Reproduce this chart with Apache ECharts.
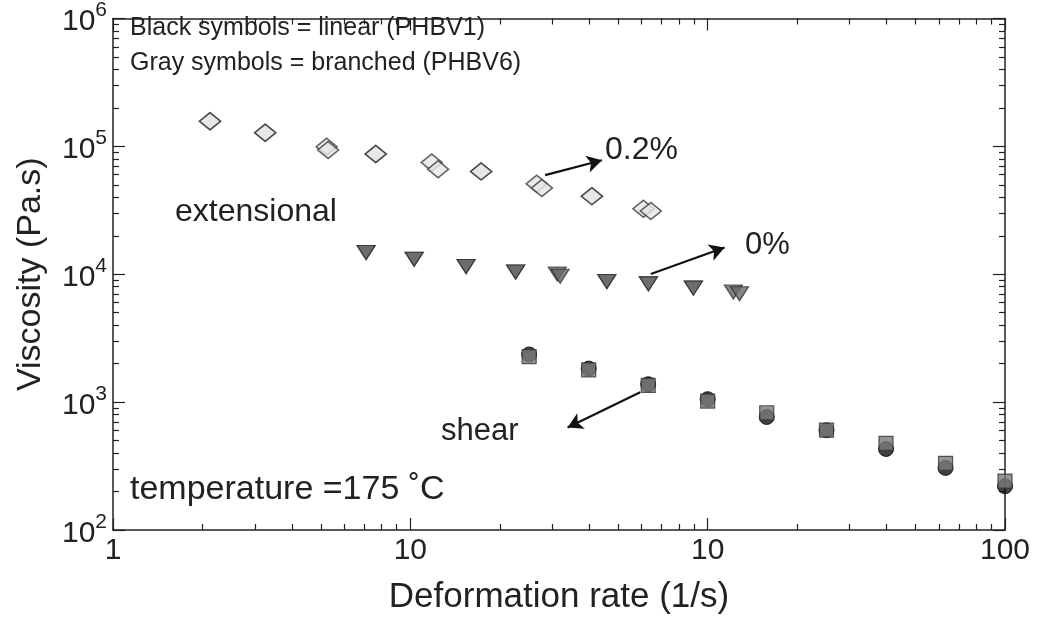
<!DOCTYPE html>
<html>
<head>
<meta charset="utf-8">
<script src="https://cdn.jsdelivr.net/npm/echarts@6/dist/echarts.min.js"></script>
<style>
  html, body { margin: 0; padding: 0; background: #fff; }
  #chart { width: 1042px; height: 623px; }
</style>
</head>
<body>
<div id="chart"></div>
<script>
// axis ticks (x axis is labelled oddly in the source figure: 1, 10, 10, 100)
const xTickValues = [1, 10, 100, 1000]
const xTickLabels = ['1', '10', '10', '100']
const xMinorTicks = [2, 3, 4, 5, 6, 7, 8, 9, 20, 30, 40, 50, 60, 70, 80, 90, 200, 300, 400, 500, 600, 700, 800, 900]
const yTickValues = [1e2, 1e3, 1e4, 1e5, 1e6]
const yMinorTicks = [200, 300, 400, 500, 600, 700, 800, 900, 2e3, 3e3, 4e3, 5e3, 6e3, 7e3, 8e3, 9e3,
  2e4, 3e4, 4e4, 5e4, 6e4, 7e4, 8e4, 9e4, 2e5, 3e5, 4e5, 5e5, 6e5, 7e5, 8e5, 9e5]

// extensional, 0.2% branched (diamonds)
const extRateLinear = [2.12, 3.25, 5.23, 7.65, 11.8, 17.3, 26.6, 40.8, 60.8]
const extViscLinear = [157000, 127700, 99500, 87100, 74800, 63700, 51000, 40800, 32500]
const extRateBranched = [2.12, 3.25, 5.29, 7.65, 12.4, 17.3, 27.7, 40.8, 64.4]
const extViscBranched = [157000, 127700, 93600, 87100, 66300, 63700, 47200, 40800, 31200]

// extensional, 0% (triangles)
const triRateLinear = [7.10, 10.3, 15.4, 22.6, 31.2, 45.8, 63.2, 89.5, 122]
const triViscLinear = [14800, 13100, 11500, 10400, 10050, 8780, 8410, 7790, 7260]
const triRateBranched = [7.10, 10.3, 15.4, 22.6, 31.9, 45.8, 63.2, 89.5, 128]
const triViscBranched = [14800, 13100, 11500, 10400, 9650, 8780, 8410, 7790, 7040]

// shear (circles = linear, squares = branched)
const shearRate = [25.1, 39.8, 63.1, 100, 158, 251, 398, 631, 1000]
const shearViscLinear = [2360, 1830, 1380, 1055, 765, 603, 430, 306, 220]
const shearViscBranched = [2270, 1790, 1350, 1020, 826, 603, 475, 332, 241]

// annotation arrows, [from, to] in data units
const arrow02 = [[28.4, 59600], [44.1, 77900]]
const arrow0 = [[64.4, 10050], [114, 16200]]
const arrowShear = [[59.3, 1195], [33.8, 632]]

const FONT = '"Liberation Sans", Arial, Helvetica, sans-serif'
const INK = '#222'

const zip = (xs, ys) => xs.map((x, i) => [x, ys[i]])

const chart = echarts.init(document.getElementById('chart'), null, { renderer: 'canvas' })

const frameLine = { show: true, lineStyle: { color: INK, width: 1.5 } }

function xAxisOf(position, major, withLabels) {
  return {
    type: 'log', logBase: 10, min: 1, max: 1000, position,
    axisLine: major ? frameLine : { show: false },
    axisTick: {
      show: true, inside: true, length: major ? 12 : 6,
      customValues: major ? xTickValues : xMinorTicks,
      lineStyle: { color: INK, width: 1.2 }
    },
    axisLabel: withLabels ? {
      show: true, customValues: xTickValues, margin: 6,
      fontFamily: FONT, fontSize: 30, color: INK,
      formatter: v => xTickLabels[xTickValues.indexOf(Math.round(v))] || ''
    } : { show: false },
    splitLine: { show: false },
    name: withLabels ? 'Deformation rate (1/s)' : '',
    nameLocation: 'middle', nameGap: 50,
    nameTextStyle: { fontFamily: FONT, fontSize: 35, color: INK }
  }
}

function yAxisOf(position, major, withLabels) {
  return {
    type: 'log', logBase: 10, min: 100, max: 1e6, position,
    axisLine: major ? frameLine : { show: false },
    axisTick: {
      show: true, inside: true, length: major ? 12 : 6,
      customValues: major ? yTickValues : yMinorTicks,
      lineStyle: { color: INK, width: 1.2 }
    },
    axisLabel: withLabels ? {
      show: true, customValues: yTickValues, margin: 6,
      formatter: v => '{b|10}{s|' + Math.round(Math.log10(v)) + '}',
      rich: {
        b: { fontFamily: FONT, fontSize: 30, color: INK, lineHeight: 37, verticalAlign: 'bottom' },
        s: { fontFamily: FONT, fontSize: 21, color: INK, verticalAlign: 'top' }
      }
    } : { show: false },
    splitLine: { show: false },
    name: withLabels ? 'Viscosity (Pa.s)' : '',
    nameLocation: 'middle', nameGap: 65,
    nameTextStyle: { fontFamily: FONT, fontSize: 34, color: INK }
  }
}

const arrowLine = (pair) => [{ coord: pair[0] }, { coord: pair[1] }]

const text = (left, top, str, size) => ({
  type: 'text', left, top,
  style: { text: str, fontFamily: FONT, fontSize: size, fill: INK }
})

chart.setOption({
  animation: false,
  backgroundColor: '#fff',
  grid: { left: 113, right: 37, top: 14, bottom: 93 },
  xAxis: [
    xAxisOf('bottom', true, true),
    xAxisOf('bottom', false, false),
    xAxisOf('top', true, false),
    xAxisOf('top', false, false)
  ],
  yAxis: [
    yAxisOf('left', true, true),
    yAxisOf('left', false, false),
    yAxisOf('right', true, false),
    yAxisOf('right', false, false)
  ],
  series: [
    {
      name: 'extensional 0.2% linear', type: 'scatter', data: zip(extRateLinear, extViscLinear),
      symbol: 'diamond', symbolSize: [21, 17],
      itemStyle: { color: '#e6e6e6', borderColor: '#3a3a3a', borderWidth: 1.5 }
    },
    {
      name: 'extensional 0.2% branched', type: 'scatter', data: zip(extRateBranched, extViscBranched),
      symbol: 'diamond', symbolSize: [21, 17],
      itemStyle: { color: '#e6e6e6', borderColor: '#3a3a3a', borderWidth: 1.5 },
      markLine: {
        silent: true, symbol: ['none', 'arrow'], symbolSize: [13, 15], label: { show: false },
        lineStyle: { color: '#111', width: 2.2, type: 'solid' },
        data: [arrowLine(arrow02), arrowLine(arrow0), arrowLine(arrowShear)]
      }
    },
    {
      name: 'extensional 0% linear', type: 'scatter', data: zip(triRateLinear, triViscLinear),
      symbol: 'triangle', symbolRotate: 180, symbolSize: [18, 14],
      itemStyle: { color: '#666', borderColor: '#333', borderWidth: 1.2 }
    },
    {
      name: 'extensional 0% branched', type: 'scatter', data: zip(triRateBranched, triViscBranched),
      symbol: 'triangle', symbolRotate: 180, symbolSize: [18, 14],
      itemStyle: { color: '#666', borderColor: '#333', borderWidth: 1.2 }
    },
    {
      name: 'shear linear', type: 'scatter', data: zip(shearRate, shearViscLinear),
      symbol: 'circle', symbolSize: 15,
      itemStyle: { color: '#111', borderColor: '#000', borderWidth: 1 }
    },
    {
      name: 'shear branched', type: 'scatter', data: zip(shearRate, shearViscBranched),
      symbol: 'rect', symbolSize: 14,
      itemStyle: { color: '#7a7a7a', borderColor: '#333', borderWidth: 1.2 }
    }
  ],
  graphic: [
    text(130, 16, 'Black symbols = linear (PHBV1)', 25),
    text(130, 51, 'Gray symbols = branched (PHBV6)', 25),
    text(175, 196, 'extensional', 32),
    text(605, 134, '0.2%', 32),
    text(745, 230, '0%', 31),
    text(441, 416, 'shear', 31),
    text(130, 473, 'temperature =175 \u02daC', 34)
  ]
})
</script>
</body>
</html>
